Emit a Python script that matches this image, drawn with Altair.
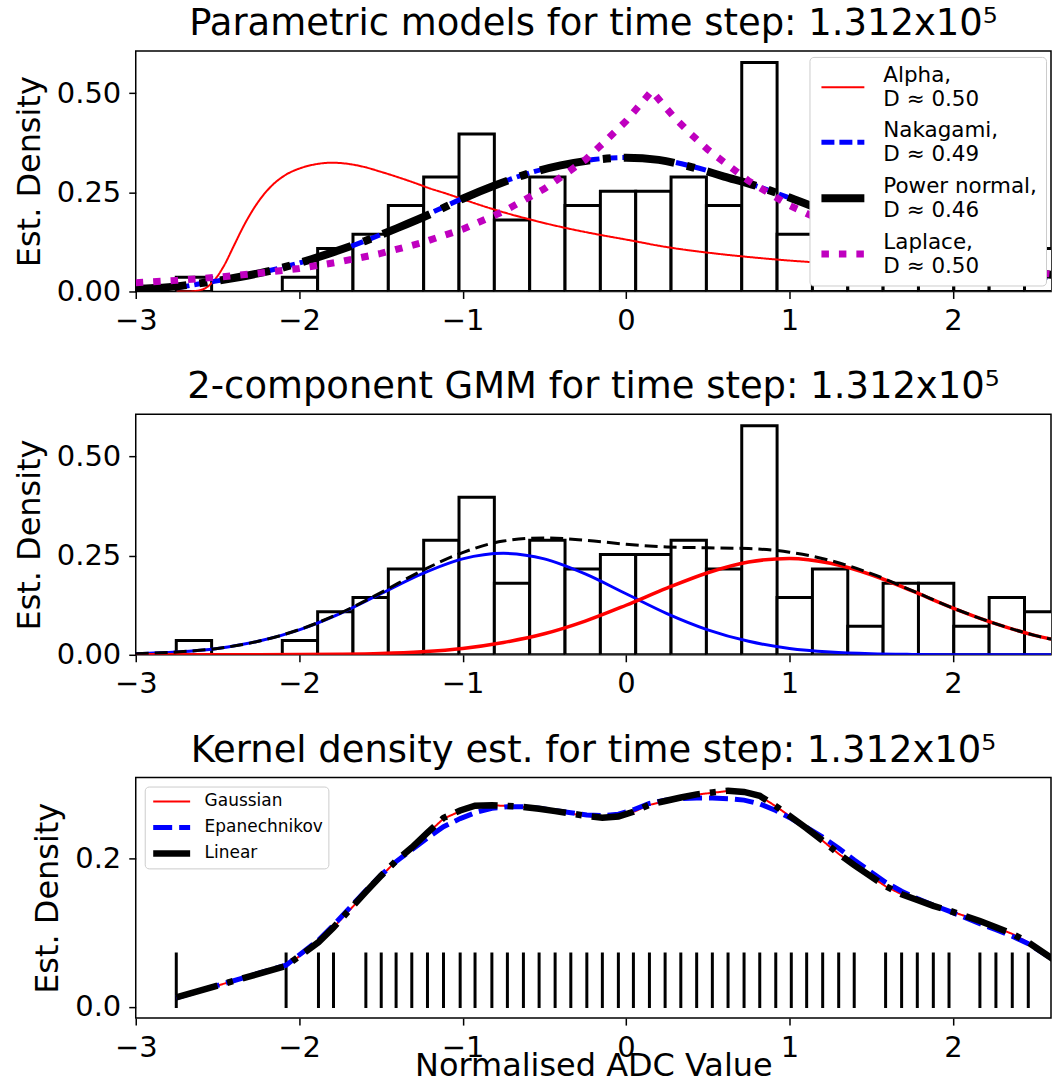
import altair as alt
import pandas as pd

FONT = "DejaVu Sans"

# ---------------- data ----------------
# histogram (shared by panels 1 and 2)
hist_min = -2.752
hist_max = 2.654
hist_counts = [1, 0, 0, 1, 3, 4, 6, 8, 11, 5, 8, 6, 7, 7, 8, 6, 16, 4, 6, 2, 5, 5, 2, 4, 3]

# panel 1: parametric fits
alpha_x = [-2.75, -2.68, -2.6, -2.52, -2.46, -2.40, -2.34, -2.28, -2.22, -2.16, -2.08, -2.0,
           -1.9, -1.8, -1.7, -1.6, -1.5, -1.4, -1.3, -1.2, -1.1, -1.0, -0.9, -0.8, -0.6, -0.4,
           -0.2, 0.0, 0.25, 0.5, 0.75, 1.0, 1.25, 1.5, 1.75, 2.0, 2.25, 2.5, 2.7]
alpha_y = [0.0, 0.0, 0.004, 0.028, 0.065, 0.115, 0.165, 0.208, 0.243, 0.27, 0.295, 0.31,
           0.321, 0.325, 0.322, 0.314, 0.302, 0.289, 0.275, 0.26, 0.247, 0.233, 0.219, 0.206,
           0.183, 0.163, 0.146, 0.131, 0.112, 0.098, 0.087, 0.078, 0.071, 0.064, 0.058, 0.053,
           0.049, 0.045, 0.042]

nak_x = [-2.75, -2.6, -2.4, -2.2, -2.0, -1.8, -1.6, -1.4, -1.2, -1.0, -0.8, -0.6, -0.4, -0.2,
         0.0, 0.2, 0.4, 0.6, 0.8, 1.0, 1.2, 1.4, 1.6, 1.8, 2.0, 2.2, 2.4, 2.6, 2.7]
nak_y = [0.009, 0.02, 0.034, 0.051, 0.072, 0.097, 0.127, 0.161, 0.197, 0.235, 0.269, 0.298,
         0.319, 0.333, 0.338, 0.333, 0.316, 0.292, 0.266, 0.236, 0.203, 0.168, 0.135, 0.105,
         0.08, 0.06, 0.045, 0.034, 0.03]

pn_x = [-3.0, -2.8, -2.6, -2.4, -2.2, -2.0, -1.8, -1.6, -1.4, -1.2, -1.0, -0.8, -0.6, -0.4,
        -0.2, 0.0, 0.2, 0.4, 0.6, 0.8, 1.0, 1.2, 1.4, 1.6, 1.8, 2.0, 2.2, 2.4, 2.6, 2.7]
pn_y = [0.007, 0.011, 0.021, 0.034, 0.050, 0.072, 0.098, 0.127, 0.160, 0.195, 0.234, 0.268,
        0.297, 0.318, 0.332, 0.3375, 0.332, 0.314, 0.29, 0.266, 0.237, 0.205, 0.172, 0.14,
        0.112, 0.089, 0.07, 0.054, 0.042, 0.038]

lap_x = [-3.0, -2.75, -2.5, -2.25, -2.0, -1.75, -1.5, -1.25, -1.0, -0.75, -0.5, -0.25, -0.125,
         0.0, 0.08, 0.157, 0.23, 0.3, 0.4, 0.5, 0.75, 1.0, 1.25, 1.5, 1.75, 2.0, 2.25, 2.5, 2.7]
lap_y = [0.022, 0.028, 0.036, 0.046, 0.058, 0.075, 0.096, 0.123, 0.157, 0.202, 0.259, 0.332,
         0.38, 0.43, 0.469, 0.506, 0.47, 0.437, 0.396, 0.358, 0.279, 0.217, 0.169, 0.131,
         0.102, 0.08, 0.062, 0.048, 0.040]

model_names = ["Alpha", "Nakagami", "Power normal", "Laplace"]
model_D = ["0.50", "0.49", "0.46", "0.50"]

# panel 2: GMM
gmm_x = [-3.0, -2.75, -2.5, -2.25, -2.0, -1.75, -1.5, -1.25, -1.0, -0.75, -0.5, -0.25, 0.0,
         0.25, 0.5, 0.75, 1.0, 1.25, 1.5, 1.75, 2.0, 2.25, 2.5, 2.75]
gmm_c1 = [0.0027, 0.007, 0.016, 0.034, 0.063, 0.104, 0.154, 0.204, 0.242, 0.256, 0.242, 0.204,
          0.154, 0.104, 0.063, 0.034, 0.016, 0.007, 0.0027, 0.001, 0.0003, 0.0001, 0.0, 0.0]
gmm_c2 = [0.0, 0.0, 0.0, 0.0001, 0.0005, 0.0014, 0.0034, 0.0078, 0.016, 0.031, 0.053, 0.085,
          0.125, 0.168, 0.207, 0.234, 0.243, 0.231, 0.202, 0.161, 0.118, 0.080, 0.049, 0.028]
gmm_tot = [0.0027, 0.007, 0.016, 0.034, 0.0635, 0.105, 0.157, 0.212, 0.258, 0.287, 0.295, 0.289,
           0.279, 0.272, 0.270, 0.268, 0.259, 0.238, 0.205, 0.162, 0.118, 0.080, 0.049, 0.028]

# panel 3: KDE evaluated at the (quantised) sample values
rug_x = [-2.752, -2.080, -1.882, -1.790, -1.592, -1.498, -1.407, -1.311, -1.215, -1.117, -1.015,
         -0.924, -0.821, -0.726, -0.628, -0.532, -0.434, -0.338, -0.240, -0.145, -0.047, 0.045,
         0.143, 0.239, 0.335, 0.432, 0.528, 0.624, 0.722, 0.818, 0.916, 1.011, 1.105, 1.203,
         1.301, 1.396, 1.588, 1.686, 1.782, 1.880, 1.976, 2.165, 2.263, 2.363, 2.461, 2.654]
kde_gauss = [0.0125, 0.055, 0.087, 0.107, 0.154, 0.176, 0.197, 0.215, 0.234, 0.254, 0.264,
             0.2712, 0.2721, 0.271, 0.2696, 0.2672, 0.264, 0.2608, 0.2576, 0.2552, 0.2566, 0.263,
             0.2726, 0.2775, 0.2822, 0.2865, 0.2889, 0.2913, 0.2897, 0.2845, 0.2707, 0.2558,
             0.2407, 0.224, 0.2064, 0.1911, 0.1626, 0.1518, 0.144, 0.136, 0.1297, 0.1155, 0.107,
             0.0983, 0.0866, 0.058]
kde_epan = [0.012, 0.056, 0.09, 0.11, 0.157, 0.178, 0.196, 0.212, 0.228, 0.243, 0.254, 0.262,
            0.268, 0.27, 0.27, 0.268, 0.265, 0.262, 0.259, 0.258, 0.26, 0.266, 0.2745, 0.279,
            0.281, 0.282, 0.282, 0.281, 0.279, 0.274, 0.265, 0.254, 0.242, 0.229, 0.214, 0.198,
            0.168, 0.156, 0.146, 0.137, 0.129, 0.112, 0.104, 0.095, 0.085, 0.058]
kde_linear = [0.0125, 0.055, 0.087, 0.107, 0.155, 0.177, 0.197, 0.215, 0.235, 0.255, 0.265,
              0.2715, 0.2722, 0.2712, 0.2697, 0.2673, 0.2641, 0.2609, 0.2575, 0.2552, 0.2568,
              0.2632, 0.2728, 0.2778, 0.2826, 0.2868, 0.2893, 0.2918, 0.2901, 0.2848, 0.2709,
              0.2560, 0.2409, 0.2242, 0.2065, 0.1912, 0.1627, 0.1519, 0.1441, 0.1361, 0.1298,
              0.1157, 0.1072, 0.0985, 0.0867, 0.058]
kde_names = ["Gaussian", "Epanechnikov", "Linear"]

title_1 = "Parametric models for time step: 1.312x10\u2075"
title_2 = "2-component GMM for time step: 1.312x10\u2075"
title_3 = "Kernel density est. for time step: 1.312x10\u2075"

# ---------------- frames ----------------
n_total = sum(hist_counts)
nb = len(hist_counts)
bw = (hist_max - hist_min) / nb
hist_df = pd.DataFrame({
    "x0": [hist_min + i * bw for i in range(nb)],
    "x1": [hist_min + (i + 1) * bw for i in range(nb)],
    "density": [c / (n_total * bw) for c in hist_counts],
})
hist_df = hist_df[hist_df["density"] > 0]

par_df = pd.concat([
    pd.DataFrame({"x": alpha_x, "y": alpha_y, "series": model_names[0]}),
    pd.DataFrame({"x": nak_x, "y": nak_y, "series": model_names[1]}),
    pd.DataFrame({"x": pn_x, "y": pn_y, "series": model_names[2]}),
    pd.DataFrame({"x": lap_x, "y": lap_y, "series": model_names[3]}),
])
gmm_df = pd.concat([
    pd.DataFrame({"x": gmm_x, "y": gmm_c1, "series": "c1"}),
    pd.DataFrame({"x": gmm_x, "y": gmm_c2, "series": "c2"}),
    pd.DataFrame({"x": gmm_x, "y": gmm_tot, "series": "total"}),
])
kde_df = pd.concat([
    pd.DataFrame({"x": rug_x, "y": kde_gauss, "kernel": kde_names[0]}),
    pd.DataFrame({"x": rug_x, "y": kde_epan, "kernel": kde_names[1]}),
    pd.DataFrame({"x": rug_x, "y": kde_linear, "kernel": kde_names[2]}),
])
rug_df = pd.DataFrame({"x": rug_x})

# ---------------- helpers ----------------
W, H = 917, 241
xscale = alt.Scale(domain=[-3, 2.6], nice=False, zero=False)


def xaxis(title=None):
    if title:
        return alt.Axis(values=[-3, -2, -1, 0, 1, 2], format="d", title=title, labelFlush=False,
                        titleY=58, titleBaseline="alphabetic")
    return alt.Axis(values=[-3, -2, -1, 0, 1, 2], format="d", title=None, labelFlush=False)


def hist_layer(yscale, yaxis):
    return alt.Chart(hist_df).mark_rect(
        fill="white", stroke="black", strokeWidth=3, clip=True
    ).encode(
        x=alt.X("x0:Q", scale=xscale, axis=xaxis()),
        x2="x1:Q",
        y=alt.Y("density:Q", scale=yscale, axis=yaxis),
        y2=alt.datum(0),
    )


def line_layers(df, field, names, colors, dashes, widths, interps, legend, yscale, yaxis, xtitle=None):
    layers = []
    for i, nm in enumerate(names):
        enc = dict(
            x=alt.X("x:Q", scale=xscale, axis=xaxis(xtitle)),
            y=alt.Y("y:Q", scale=yscale, axis=yaxis),
        )
        sub = df[df[field] == nm]
        if legend is not None:
            enc["color"] = alt.Color(f"{field}:N", scale=alt.Scale(domain=names, range=colors), legend=legend)
            enc["strokeDash"] = alt.StrokeDash(f"{field}:N", scale=alt.Scale(domain=names, range=dashes), legend=legend)
            enc["strokeWidth"] = alt.StrokeWidth(
                f"{field}:N", scale=alt.Scale(type="ordinal", domain=names, range=widths), legend=legend)
            mark = alt.Chart(sub).mark_line(clip=True, interpolate=interps[i], strokeCap="butt")
        else:
            mark = alt.Chart(sub).mark_line(
                clip=True, interpolate=interps[i], color=colors[i],
                strokeWidth=widths[i], strokeCap="butt",
                **({"strokeDash": dashes[i]} if dashes[i] else {}))
        layers.append(mark.encode(**enc))
    return layers


# ---------------- panel 1 ----------------
y12 = alt.Scale(domain=[0, 0.607], nice=False)
yax12 = alt.Axis(values=[0, 0.25, 0.5], format=".2f", title="Est. Density")

label_expr_1 = " : ".join(
    f"datum.label == '{n}' ? ['{n},', 'D \u2248 {d}']" for n, d in zip(model_names, model_D)
) + " : datum.label"

leg1 = alt.Legend(
    title=None, orient="none", legendX=675, legendY=6,
    labelFont=FONT, labelFontSize=21.5, labelColor="black", labelLimit=400,
    symbolType="stroke", symbolSize=1849, labelOffset=15, rowPadding=7.5,
    padding=8, strokeColor="#cccccc", fillColor="white", cornerRadius=4,
    labelExpr=label_expr_1, labelBaseline="bottom",
)

p1 = alt.layer(
    hist_layer(y12, yax12),
    *line_layers(
        par_df, "series", model_names,
        ["#ff0000", "#0000ff", "#000000", "#bf00bf"],
        [[1, 0], [13, 5], [51, 13, 8, 13], [7.5, 10]],
        [2, 5, 8, 7],
        ["monotone", "monotone", "monotone", "linear"],
        leg1, y12, yax12,
    ),
).properties(width=W, height=H, title=title_1)

# ---------------- panel 2 ----------------
p2 = alt.layer(
    hist_layer(y12, yax12),
    *line_layers(
        gmm_df, "series", ["c1", "c2", "total"],
        ["#0000ff", "#ff0000", "#000000"],
        [None, None, [13, 6]],
        [3, 3.5, 3],
        ["monotone", "monotone", "monotone"],
        None, y12, yax12,
    ),
).properties(width=W, height=H, title=title_2)

# ---------------- panel 3 ----------------
y3 = alt.Scale(domain=[-0.0155, 0.3095], nice=False, zero=False)
yax3 = alt.Axis(values=[0, 0.2], format=".1f", title="Est. Density")

leg3 = alt.Legend(
    title=None, orient="none", legendX=9, legendY=9,
    labelFont=FONT, labelFontSize=17, labelColor="black", labelLimit=400,
    symbolType="stroke", symbolSize=1369, labelOffset=11, rowPadding=6, clipHeight=20,
    padding=5, strokeColor="#cccccc", fillColor="white", cornerRadius=4,
)

rug = alt.Chart(rug_df).mark_rule(color="black", strokeWidth=3, clip=True).encode(
    x=alt.X("x:Q", scale=xscale, axis=xaxis("Normalised ADC Value")),
    y=alt.Y(datum=-0.002, scale=y3, axis=yax3),
    y2=alt.datum(0.073),
)

p3 = alt.layer(
    rug,
    *line_layers(
        kde_df, "kernel", kde_names,
        ["#ff0000", "#0000ff", "#000000"],
        [[1, 0], [19, 7], [43, 10, 6, 10]],
        [2, 5, 6.5],
        ["linear", "linear", "linear"],
        leg3, y3, yax3, xtitle="Normalised ADC Value",
    ),
).properties(width=W, height=H, title=title_3)

chart = alt.vconcat(p1, p2, p3, spacing=31).resolve_scale(
    color="independent", strokeDash="independent", strokeWidth="independent"
).resolve_legend(
    color="independent", strokeDash="independent", strokeWidth="independent"
).properties(
    padding={"left": 12, "top": 3, "right": 0, "bottom": 0}
).configure(
    font=FONT,
).configure_view(
    stroke="black", strokeWidth=1.5,
).configure_axis(
    labelFont=FONT, labelFontSize=29, labelColor="black",
    titleFont=FONT, titleFontSize=32, titleFontWeight="normal", titleColor="black",
    tickColor="black", tickWidth=1.5, tickSize=7, labelPadding=8, titlePadding=10,
    grid=False, domain=False,
).configure_title(
    font=FONT, fontSize=37, fontWeight="normal", color="black", offset=8, anchor="middle",
)

chart.save("out.html", embed_options={"renderer": "svg", "actions": False})
